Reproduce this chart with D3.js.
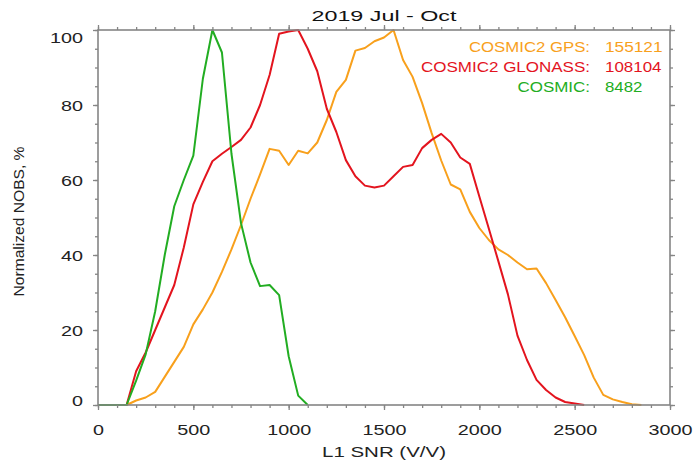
<!DOCTYPE html>
<html>
<head>
<meta charset="utf-8">
<script src="https://cdn.jsdelivr.net/npm/d3@7"></script>
<style>
  body { margin: 0; background: #fff; }
  svg { display: block; font-family: "Liberation Sans", Arial, sans-serif; }
</style>
</head>
<body>
<div id="wrapper"></div>
<script>
// ---------- data
const gpsSnr = [0,50,100,150,200,250,300,350,400,450,500,550,600,650,700,750,800,850,900,950,
  1000,1050,1100,1150,1200,1250,1300,1350,1400,1450,1500,1550,1600,1650,1700,1750,1800,1850,1900,1950,
  2000,2050,2100,2150,2200,2250,2300,2350,2400,2450,2500,2550,2600,2650,2700,2750,2800,2850]
const gpsNobs = [0,0,0,0,1.2,2,3.5,7.5,11.5,15.5,21.5,25.5,30,35.5,41.5,48,55,61.5,68.3,67.8,
  64,67.8,67.1,70,76,83.5,86.7,94.5,95.2,97,98,100,92,87.5,80.5,72.5,65.2,58.8,57.5,51.5,
  47.2,44,41.5,40,38,36.2,36.4,32.5,28,23.4,18.4,13.3,7.3,2.7,1.5,0.8,0.2,0]

const glonassSnr = [0,50,100,150,200,250,300,350,400,450,500,550,600,650,700,750,800,850,900,950,
  1000,1050,1100,1150,1200,1250,1300,1350,1400,1450,1500,1550,1600,1650,1700,1750,1800,1850,1900,1950,
  2000,2050,2100,2150,2200,2250,2300,2350,2400,2450,2500,2550]
const glonassNobs = [0,0,0,0,9,14,20,26,32,42,53.5,59.5,65,67,68.8,70.7,74,80,88,99,
  99.6,100,95,89,79,72.8,65.3,61,58.5,58,58.5,61,63.5,64,68.5,70.7,72.3,70,66,64.3,
  55.6,47,38.3,29.5,18.5,12,6.7,4,2,0.8,0.4,0]

const cosmicSnr = [0,50,100,150,200,250,300,350,400,450,500,550,600,650,700,750,800,850,900,950,1000,1050,1100]
const cosmicNobs = [0,0,0,0,6.5,13.5,25,40,53,60,66.5,87,100,94,67,48.5,38,31.7,32,29.3,13,2.5,0]

const seriesNames = ["COSMIC2 GPS:", "COSMIC2 GLONASS:", "COSMIC:"]
const seriesCounts = ["155121", "108104", "8482"]
const seriesColors = ["#f8a01c", "#e3141e", "#22ad22"]

const xTicks = [0,500,1000,1500,2000,2500,3000]
const yTicks = [0,20,40,60,80,100]

// ---------- dimensions
const dimensions = {
  width: 694,
  height: 462,
  margin: { top: 30, right: 24, bottom: 57, left: 98 }
}
dimensions.boundedWidth = dimensions.width - dimensions.margin.left - dimensions.margin.right
dimensions.boundedHeight = dimensions.height - dimensions.margin.top - dimensions.margin.bottom

const svg = d3.select("#wrapper").append("svg")
  .attr("width", dimensions.width)
  .attr("height", dimensions.height)

const xScale = d3.scaleLinear()
  .domain([0, 3000])
  .range([dimensions.margin.left, dimensions.margin.left + dimensions.boundedWidth])
const yScale = d3.scaleLinear()
  .domain([0, 100])
  .range([dimensions.margin.top + dimensions.boundedHeight, dimensions.margin.top])

const axisColor = "#858585"
const x0 = dimensions.margin.left, x1 = x0 + dimensions.boundedWidth
const y0 = dimensions.margin.top + dimensions.boundedHeight, y1 = dimensions.margin.top

// ---------- lines
const series = [
  { x: gpsSnr, y: gpsNobs },
  { x: glonassSnr, y: glonassNobs },
  { x: cosmicSnr, y: cosmicNobs }
]
const line = d3.line()
  .x(d => xScale(d[0]))
  .y(d => yScale(d[1]))

svg.append("g").selectAll("path")
  .data(series)
  .join("path")
  .attr("d", s => line(s.x.map((v, i) => [v, s.y[i]])))
  .attr("fill", "none")
  .attr("stroke", (s, i) => seriesColors[i])
  .attr("stroke-width", 2)
  .attr("stroke-linejoin", "round")

// ---------- axes
const styleAxis = g => {
  g.select(".domain").remove()
  g.selectAll(".tick line").attr("stroke", axisColor).attr("stroke-width", 1.3)
}
const minorX = d3.range(0, 3001, 100)
const minorY = d3.range(0, 101, 5)

// bottom
svg.append("g").attr("transform", `translate(0,${y0})`)
  .call(d3.axisBottom(xScale).tickValues(minorX).tickSize(3).tickFormat(""))
  .call(styleAxis)
const xAxis = svg.append("g").attr("transform", `translate(0,${y0})`)
  .call(d3.axisBottom(xScale).tickValues(xTicks).tickSize(5).tickFormat(d3.format("d")))
  .call(styleAxis)
xAxis.selectAll(".tick text")
  .attr("y", 30).attr("dy", 0)
  .attr("font-size", 14).attr("fill", "#222")
  .attr("textLength", d => String(d).length * 11)
  .attr("lengthAdjust", "spacingAndGlyphs")

// top
svg.append("g").attr("transform", `translate(0,${y1})`)
  .call(d3.axisTop(xScale).tickValues(minorX).tickSize(3).tickFormat(""))
  .call(styleAxis)
svg.append("g").attr("transform", `translate(0,${y1})`)
  .call(d3.axisTop(xScale).tickValues(xTicks).tickSize(5).tickFormat(""))
  .call(styleAxis)

// left
svg.append("g").attr("transform", `translate(${x0},0)`)
  .call(d3.axisLeft(yScale).tickValues(minorY).tickSize(3).tickFormat(""))
  .call(styleAxis)
const yAxis = svg.append("g").attr("transform", `translate(${x0},0)`)
  .call(d3.axisLeft(yScale).tickValues(yTicks).tickSize(5).tickFormat(d3.format("d")))
  .call(styleAxis)
yAxis.selectAll(".tick text")
  .attr("x", -15)
  .attr("dy", d => d === 100 ? 12.5 : d === 0 ? 0 : 5)
  .attr("font-size", 14).attr("fill", "#222")
  .attr("textLength", d => String(d).length * 11)
  .attr("lengthAdjust", "spacingAndGlyphs")

// right
svg.append("g").attr("transform", `translate(${x1},0)`)
  .call(d3.axisRight(yScale).tickValues(minorY).tickSize(3).tickFormat(""))
  .call(styleAxis)
svg.append("g").attr("transform", `translate(${x1},0)`)
  .call(d3.axisRight(yScale).tickValues(yTicks).tickSize(5).tickFormat(""))
  .call(styleAxis)

// frame
svg.append("rect")
  .attr("x", x0).attr("y", y1)
  .attr("width", x1 - x0).attr("height", y0 - y1)
  .attr("fill", "none")
  .attr("stroke", axisColor)
  .attr("stroke-width", 1.6)

// ---------- texts
svg.append("text")
  .attr("x", (x0 + x1) / 2).attr("y", 21)
  .attr("text-anchor", "middle")
  .attr("font-size", 15.5).attr("fill", "#111")
  .attr("textLength", 145).attr("lengthAdjust", "spacingAndGlyphs")
  .text("2019 Jul - Oct")

svg.append("text")
  .attr("x", (x0 + x1) / 2).attr("y", 456.5)
  .attr("text-anchor", "middle")
  .attr("font-size", 14.5).attr("fill", "#222")
  .attr("textLength", 124).attr("lengthAdjust", "spacingAndGlyphs")
  .text("L1 SNR (V/V)")

svg.append("text")
  .attr("transform", "translate(24,221.5) rotate(-90)")
  .attr("text-anchor", "middle")
  .attr("font-size", 15).attr("fill", "#222")
  .attr("textLength", 150).attr("lengthAdjust", "spacingAndGlyphs")
  .text("Normalized NOBS, %")

// legend
const nameWidths = [121, 169, 72.5]
const countWidths = [57.5, 56.5, 37.5]
const legend = svg.append("g")
seriesNames.forEach((name, i) => {
  legend.append("text")
    .attr("x", 590).attr("y", 51.7 + i * 20)
    .attr("text-anchor", "end")
    .attr("font-size", 14).attr("fill", seriesColors[i])
    .attr("textLength", nameWidths[i]).attr("lengthAdjust", "spacingAndGlyphs")
    .text(name)
  legend.append("text")
    .attr("x", 605).attr("y", 51.7 + i * 20)
    .attr("font-size", 14).attr("fill", seriesColors[i])
    .attr("textLength", countWidths[i]).attr("lengthAdjust", "spacingAndGlyphs")
    .text(seriesCounts[i])
})
</script>
</body>
</html>
